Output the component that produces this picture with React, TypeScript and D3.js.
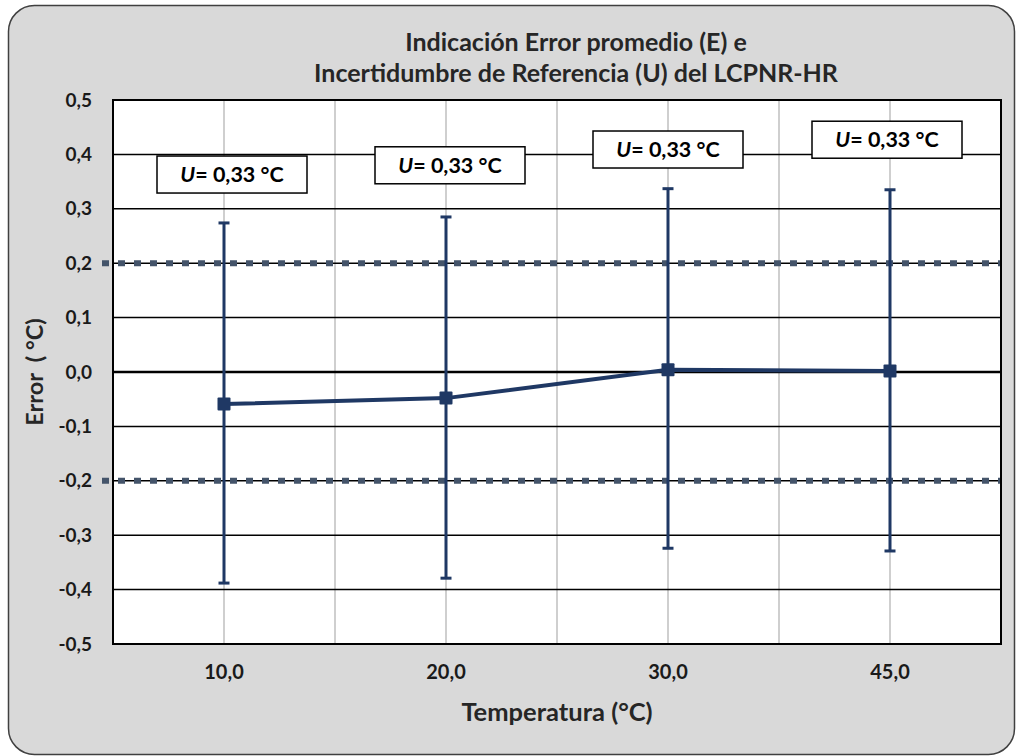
import React from "react";
import * as d3 from "d3";

const categories = ["10,0", "20,0", "30,0", "45,0"];
const errorValues = [-0.059, -0.048, 0.004, 0.002];
const upperBars = [0.274, 0.285, 0.337, 0.335];
const lowerBars = [-0.388, -0.379, -0.324, -0.329];
const yTicks = [0.5, 0.4, 0.3, 0.2, 0.1, 0, -0.1, -0.2, -0.3, -0.4, -0.5];
const limits = [0.2, -0.2];
const labelLevels = [0.397, 0.414, 0.443, 0.461];
const labelText = "0,33 °C";

export default function App() {
  const W = 1016, H = 756;
  const left = 113, right = 1001, top = 100, bottom = 644;
  const x = d3.scaleBand<string>().domain(categories).range([left, right]);
  const y = d3.scaleLinear().domain([-0.5, 0.5]).range([bottom, top]);
  const cx = (c: string) => (x(c) as number) + x.bandwidth() / 2;
  const line = d3.line<number>().x((_, i) => cx(categories[i])).y(d => y(d));
  const navy = "#1f3864";
  const fmt = (v: number) => v.toFixed(1).replace(".", ",");
  const font = "Lato, 'Open Sans', 'DejaVu Sans', sans-serif";
  const labelDx = [8, 4, 0, -3];

  return (
    <svg width={W} height={H} style={{ position: "absolute", left: 0, top: 0 }} fontFamily={font}>
      <rect x={8.5} y={5.5} width={1006} height={749} rx={26} fill="#d9d9d9" stroke="#404040" strokeWidth={1.5} />
      <rect x={left} y={top} width={right - left} height={bottom - top} fill="#ffffff" />
      {categories.map(c => (
        <line key={"vc" + c} x1={cx(c)} x2={cx(c)} y1={top} y2={bottom} stroke="#bfbfbf" strokeWidth={1.5} />
      ))}
      {categories.slice(1).map(c => (
        <line key={"vb" + c} x1={x(c)} x2={x(c)} y1={top} y2={bottom} stroke="#bfbfbf" strokeWidth={1.5} />
      ))}
      {yTicks.map(t => (
        <line key={"h" + t} x1={left} x2={right} y1={y(t)} y2={y(t)} stroke="#000" strokeWidth={t === 0 ? 2.5 : 1.5} />
      ))}
      {limits.map(l => (
        <line key={"l" + l} x1={102} x2={right} y1={y(l)} y2={y(l)} stroke="#44546a" strokeWidth={6} strokeDasharray="7 9" />
      ))}
      <rect x={left} y={top} width={right - left} height={bottom - top} fill="none" stroke="#000" strokeWidth={2} />
      {yTicks.map(t => (
        <text key={"yt" + t} x={92} y={y(t)} dy="0.35em" textAnchor="end" fontSize={19} fontWeight="bold" fill="#1a1a1a">
          {fmt(t)}
        </text>
      ))}
      {categories.map(c => (
        <text key={"xt" + c} x={cx(c)} y={672} dy="0.35em" textAnchor="middle" fontSize={20} fontWeight="bold" fill="#1a1a1a">
          {c}
        </text>
      ))}
      {categories.map((c, i) => (
        <g key={"eb" + c} stroke={navy} strokeWidth={3}>
          <line x1={cx(c)} x2={cx(c)} y1={y(upperBars[i])} y2={y(lowerBars[i])} />
          <line x1={cx(c) - 5.5} x2={cx(c) + 5.5} y1={y(upperBars[i])} y2={y(upperBars[i])} />
          <line x1={cx(c) - 5.5} x2={cx(c) + 5.5} y1={y(lowerBars[i])} y2={y(lowerBars[i])} />
        </g>
      ))}
      <path d={line(errorValues) as string} fill="none" stroke={navy} strokeWidth={4} />
      {categories.map((c, i) => (
        <rect key={"m" + c} x={cx(c) - 6.5} y={y(errorValues[i]) - 6.5} width={13} height={13} fill={navy} rx={1} />
      ))}
      {categories.map((c, i) => {
        const bx = cx(c) + labelDx[i] - 75;
        const by = y(labelLevels[i]);
        return (
          <g key={"u" + c}>
            <rect x={bx} y={by} width={150} height={37} fill="#fff" stroke="#000" strokeWidth={1.5} />
            <text x={bx + 75} y={by + 18.5} dy="0.35em" textAnchor="middle" fontSize={21.5} fontWeight="bold" fill="#000">
              <tspan fontStyle="italic">U</tspan>= {labelText}
            </text>
          </g>
        );
      })}
      <text x={576} y={42} dy="0.35em" textAnchor="middle" fontSize={25} fontWeight="bold" fill="#262626">
        Indicación Error promedio (E) e
      </text>
      <text x={576} y={73} dy="0.35em" textAnchor="middle" fontSize={25} fontWeight="bold" fill="#262626">
        Incertidumbre de Referencia (U) del LCPNR-HR
      </text>
      <text x={557} y={712} dy="0.35em" textAnchor="middle" fontSize={25.5} fontWeight="bold" fill="#262626">
        Temperatura (°C)
      </text>
      <text transform={`translate(35,${y(0)}) rotate(-90)`} dy="0.35em" textAnchor="middle" fontSize={23.5} fontWeight="bold" fill="#262626" style={{ whiteSpace: "pre" }}>
        {"Error  ( °C)"}
      </text>
    </svg>
  );
}
